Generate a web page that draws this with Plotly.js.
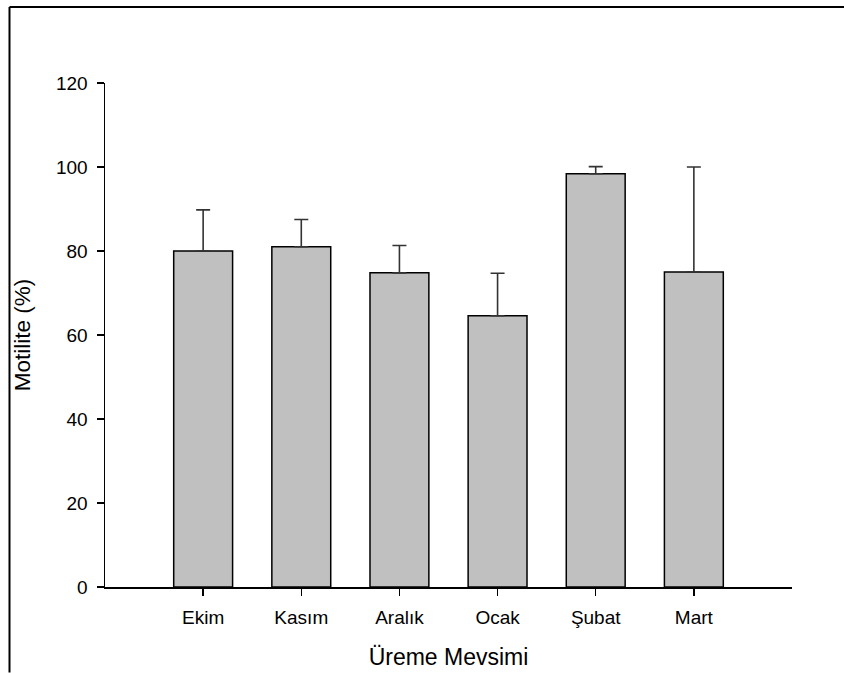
<!DOCTYPE html>
<html>
<head>
<meta charset="utf-8">
<script src="https://cdn.plot.ly/plotly-3.0.1.min.js"></script>
<style>html,body{margin:0;padding:0;background:#fff;}#chart{width:844px;height:673px;}</style>
</head>
<body>
<div id="chart"></div>
<script>
const categories = ["Ekim", "Kasım", "Aralık", "Ocak", "Şubat", "Mart"];
const motilite = [80.0, 81.0, 74.8, 64.6, 98.4, 75.0];
const errPlus = [9.8, 6.5, 6.5, 10.1, 1.7, 25.0];
const errMinus = [0, 0, 0, 0, 0, 0];
const yTicks = [0, 20, 40, 60, 80, 100, 120];

const W = 844, H = 673;
const L = 105, R = 52, T = 82.5, B = 85.7;
const pw = W - L - R, ph = H - T - B;
// frame lines (top & left) in paper coordinates
const fx = (9.5 - L) / pw;
const fyTop = (H - B - 6.5) / ph;
const fyBot = (H - B - H) / ph;

const trace = {
  type: 'bar',
  x: categories.map((c, i) => i),
  y: motilite,
  width: 0.6,
  marker: {color: '#c0c0c0', line: {color: '#000', width: 1.5}},
  error_y: {type: 'data', symmetric: false, array: errPlus, arrayminus: errMinus,
            color: '#333', thickness: 1.6, width: 7},
  hoverinfo: 'none'
};

const font = {family: 'Arial, "Liberation Sans", sans-serif', color: '#000'};

const layout = {
  width: W, height: H,
  margin: {l: L, r: R, t: T, b: B, pad: 0},
  paper_bgcolor: '#fff', plot_bgcolor: '#fff',
  showlegend: false,
  font: font,
  xaxis: {
    range: [-1, 6],
    tickmode: 'array',
    tickvals: categories.map((c, i) => i),
    ticktext: categories,
    showgrid: false, zeroline: false,
    showline: true, linecolor: '#000', linewidth: 1.5,
    ticks: 'outside', ticklen: 7, tickwidth: 1.5, tickcolor: '#000',
    tickfont: {family: font.family, size: 19, color: '#000'},
    ticklabelstandoff: 6,
    title: {text: 'Üreme Mevsimi', font: {family: font.family, size: 23, color: '#000'}, standoff: 21}
  },
  yaxis: {
    range: [0, 120],
    tickmode: 'array',
    tickvals: yTicks,
    ticktext: yTicks.map(String),
    showgrid: false, zeroline: false,
    showline: true, linecolor: '#000', linewidth: 1.5,
    ticks: 'outside', ticklen: 7, tickwidth: 1.5, tickcolor: '#000',
    tickfont: {family: font.family, size: 19, color: '#000'},
    ticklabelstandoff: 5,
    title: {text: 'Motilite (%)', font: {family: font.family, size: 22.5, color: '#000'}, standoff: 19}
  },
  shapes: [
    {type: 'line', xref: 'paper', yref: 'paper', x0: fx, x1: 1 + R / pw, y0: fyTop, y1: fyTop,
     line: {color: '#000', width: 2}},
    {type: 'line', xref: 'paper', yref: 'paper', x0: fx, x1: fx, y0: fyTop, y1: fyBot,
     line: {color: '#000', width: 2}}
  ]
};

Plotly.newPlot('chart', [trace], layout, {displayModeBar: false, staticPlot: true});
</script>
</body>
</html>
